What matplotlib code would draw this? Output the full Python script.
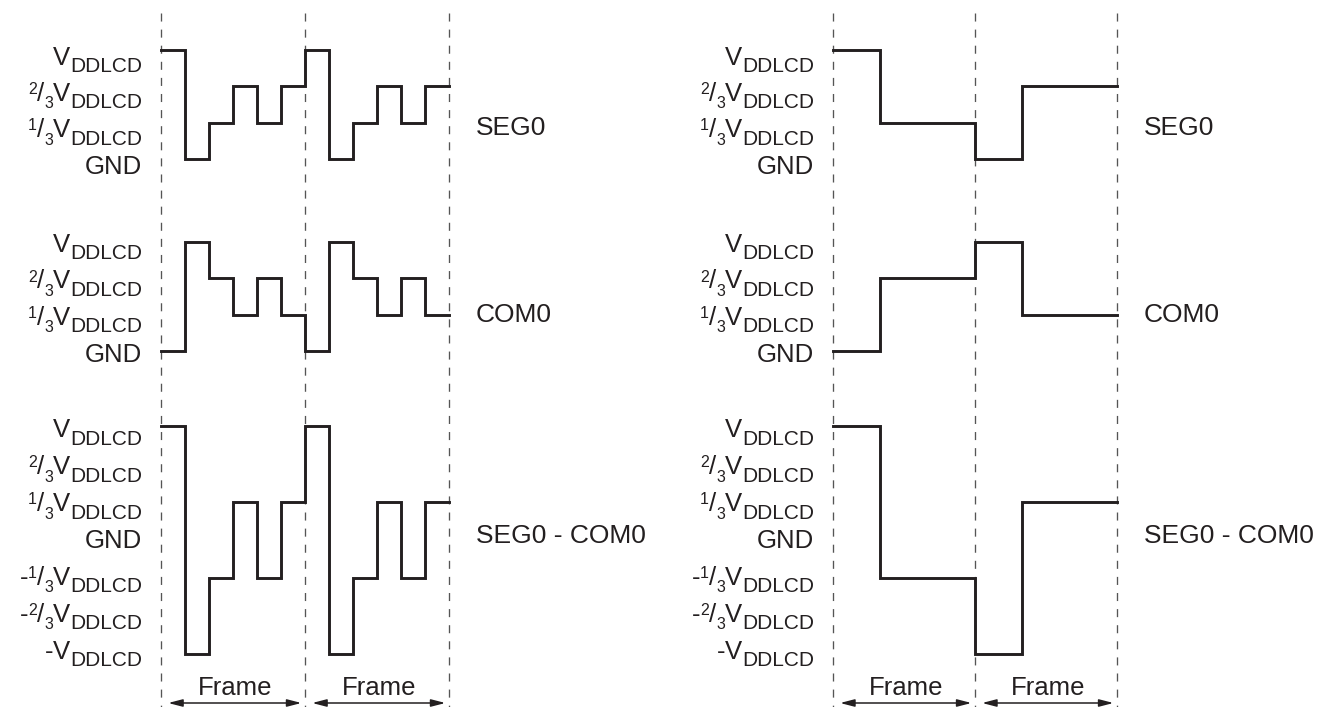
import re
import numpy as np
import matplotlib
matplotlib.use("Agg")
import matplotlib.pyplot as plt
import matplotlib.transforms as mtransforms

# ---------------- DATA ----------------
slots_per_frame = 6
n_frames = 2
frame_label = "Frame"

signal_names = ["SEG0", "COM0", "SEG0 - COM0"]

# Left diagram (levels in units of 1/3 V_DDLCD, one value per time slot)
left_seg0 = [3, 0, 1, 2, 1, 2, 3, 0, 1, 2, 1, 2]
left_com0 = [0, 3, 2, 1, 2, 1, 0, 3, 2, 1, 2, 1]
left_diff = [3, -3, -1, 1, -1, 1, 3, -3, -1, 1, -1, 1]

# Right diagram
right_seg0 = [3, 3, 1, 1, 1, 1, 0, 0, 2, 2, 2, 2]
right_com0 = [0, 0, 2, 2, 2, 2, 3, 3, 1, 1, 1, 1]
right_diff = [3, 3, -1, -1, -1, -1, -3, -3, 1, 1, 1, 1]

pos_levels = [3, 2, 1, 0]
pos_labels = ["V_{DDLCD}", "^2/_3V_{DDLCD}", "^1/_3V_{DDLCD}", "GND"]
all_levels = [3, 2, 1, 0, -1, -2, -3]
all_labels = ["V_{DDLCD}", "^2/_3V_{DDLCD}", "^1/_3V_{DDLCD}", "GND",
              "-^1/_3V_{DDLCD}", "-^2/_3V_{DDLCD}", "-V_{DDLCD}"]

# ---------------- STYLE / LAYOUT ----------------
W, H, DPI = 1318, 707, 100
INK = "#231f20"
DASH = "#555555"
FONT = "Liberation Sans"
MAIN, SUB, SMALL = 18.5, 15.0, 11.5

fig = plt.figure(figsize=(W / DPI, H / DPI), dpi=DPI)
fig.patch.set_facecolor("white")
renderer = fig.canvas.get_renderer()

n_slots = slots_per_frame * n_frames
columns = [
    dict(x0=161, x1=449, series=[left_seg0, left_com0, left_diff]),
    dict(x0=833, x1=1117, series=[right_seg0, right_com0, right_diff]),
]
# per row: (level_hi, px_hi, level_lo, px_lo, ylim, label scale, label baseline offset px, name level, name offset)
rows = [
    dict(hi=3, phi=50, lo=0, plo=159, ylim=(-0.6, 3.6), levels=pos_levels, labels=pos_labels,
         lscale=1.0, loff=14.5, nlevel=1, noff=12),
    dict(hi=3, phi=241.5, lo=0, plo=351, ylim=(-0.6, 3.6), levels=pos_levels, labels=pos_labels,
         lscale=1.0, loff=10.5, nlevel=1, noff=8),
    dict(hi=3, phi=426, lo=-3, plo=654.2, ylim=(-3.6, 3.6), levels=all_levels, labels=all_labels,
         lscale=0.972, loff=8, nlevel=0, noff=3),
]


def place(ax, x0, x1, r):
    ppu = (r["plo"] - r["phi"]) / (r["hi"] - r["lo"])
    top = r["phi"] - (r["ylim"][1] - r["hi"]) * ppu
    bot = r["plo"] + (r["lo"] - r["ylim"][0]) * ppu
    ax.set_position([x0 / W, 1 - bot / H, (x1 - x0) / W, (bot - top) / H])
    ax.set_xlim(0, n_slots)
    ax.set_ylim(*r["ylim"])
    ax.axis("off")


def label_parts(label):
    m = re.match(r"^(-?)(?:\^(\d)/_(\d))?([A-Za-z]+?)(?:_\{(\w+)\})?$", label)
    sign, num, den, base, sub = m.groups()
    parts = []
    if sign:
        parts.append((sign, MAIN, 0))
    if num:
        parts += [(num, SMALL, 7), ("/", MAIN, 0), (den, SMALL, -7.4)]
    parts.append((base, MAIN, 0))
    if sub:
        parts.append((sub, SUB, -7.4))
    return parts


def put_label(ax, x, y, parts, dx_px, dy_px):
    cursor = dx_px
    for text, size, rise in reversed(parts):
        tr = ax.transData + mtransforms.ScaledTranslation(
            cursor / DPI, (dy_px + rise) / DPI, fig.dpi_scale_trans)
        t = ax.text(x, y, text, transform=tr, ha="right", va="baseline",
                    fontsize=size, family=FONT, color=INK)
        cursor -= t.get_window_extent(renderer).width


x_edges = np.arange(n_slots + 1)
frame_bounds = np.arange(0, n_slots + 1, slots_per_frame)

for col in columns:
    x0, x1 = col["x0"], col["x1"]
    # full-height axes for frame markers (y = pixels from top)
    axc = fig.add_axes([x0 / W, 0, (x1 - x0) / W, 1])
    axc.set_xlim(0, n_slots)
    axc.set_ylim(H, 0)
    axc.axis("off")
    for b in frame_bounds:
        axc.plot([b, b], [13, H + 2], color=DASH, lw=0.95, linestyle=(0, (6.1, 6.1)),
                 clip_on=False)
    for f in range(n_frames):
        a = frame_bounds[f]
        b = frame_bounds[f + 1]
        axc.annotate("", xy=(b - 0.15, 703), xytext=(a + 0.3, 703),
                     arrowprops=dict(arrowstyle="<|-|>,head_length=0.85,head_width=0.22",
                                     mutation_scale=10, lw=1.1, color=INK,
                                     shrinkA=0, shrinkB=0),
                     annotation_clip=False)
        axc.text((a + b) / 2 + 0.1, 695, frame_label, ha="center", va="baseline",
                 fontsize=MAIN, family=FONT, color=INK)

    for r, vals, name in zip(rows, col["series"], signal_names):
        ax = fig.add_axes([0, 0, 1, 1])
        place(ax, x0, x1, r)
        ax.step(x_edges, np.append(vals, vals[-1]), where="post", color=INK, lw=2.1,
                solid_joinstyle="miter", clip_on=False)
        for lv, lab in zip(r["levels"], r["labels"]):
            put_label(ax, 0, lv * r["lscale"], label_parts(lab), -19, -r["loff"])
        tr = ax.transData + mtransforms.ScaledTranslation(27 / DPI, -r["noff"] / DPI,
                                                          fig.dpi_scale_trans)
        ax.text(n_slots, r["nlevel"], name, transform=tr, ha="left", va="baseline",
                fontsize=19, family=FONT, color=INK)

fig.savefig("out.png", dpi=DPI, facecolor="white")
